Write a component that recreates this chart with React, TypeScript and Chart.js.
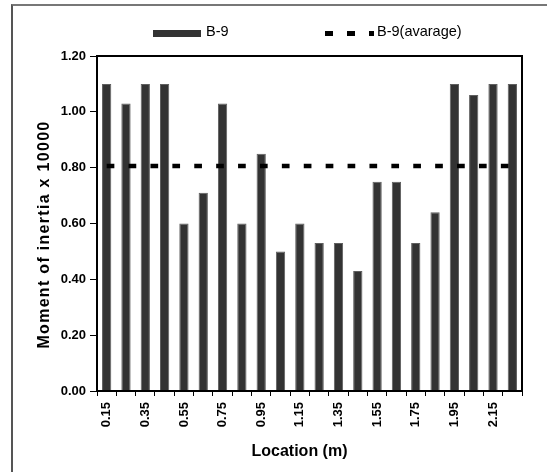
import React, { useEffect, useRef } from 'react';
import { Chart, registerables } from 'chart.js';

Chart.register(...registerables);

const locations = ['0.15', '0.25', '0.35', '0.45', '0.55', '0.65', '0.75', '0.85', '0.95', '1.05', '1.15', '1.25', '1.35', '1.45', '1.55', '1.65', '1.75', '1.85', '1.95', '2.05', '2.15', '2.25'];
const inertiaValues = [1.10, 1.03, 1.10, 1.10, 0.60, 0.71, 1.03, 0.60, 0.85, 0.50, 0.60, 0.53, 0.53, 0.43, 0.75, 0.75, 0.53, 0.64, 1.10, 1.06, 1.10, 1.10];
const averageValues = [0.806, 0.806, 0.806, 0.806, 0.806, 0.806, 0.806, 0.806, 0.806, 0.806, 0.806, 0.806, 0.806, 0.806, 0.806, 0.806, 0.806, 0.806, 0.806, 0.806, 0.806, 0.806];
const seriesNames = ['B-9', 'B-9(avarage)'];
const xTitle = 'Location (m)';
const yTitle = 'Moment of inertia x 10000';

const FONT = '"Liberation Sans", Arial, Helvetica, sans-serif';

const overlayPlugin = {
  id: 'overlay',
  afterDraw(chart: any) {
    const { ctx, chartArea: a } = chart;
    ctx.save();
    // plot frame
    ctx.strokeStyle = '#000';
    ctx.lineWidth = 2;
    ctx.setLineDash([]);
    ctx.strokeRect(a.left, a.top, a.right - a.left, a.bottom - a.top);

    // x title
    ctx.fillStyle = '#000';
    ctx.font = `bold 16px ${FONT}`;
    ctx.textAlign = 'center';
    ctx.textBaseline = 'middle';
    ctx.fillText(xTitle, (a.left + a.right) / 2 - 10, a.bottom + 61);

    // y title
    ctx.save();
    ctx.translate(45, (a.top + a.bottom) / 2 + 11);
    ctx.rotate(-Math.PI / 2);
    (ctx as any).letterSpacing = '1.3px';
    ctx.fillText(yTitle, 0, 0);
    ctx.restore();

    // legend
    const ly = 33;
    ctx.font = `14.5px ${FONT}`;
    ctx.textAlign = 'left';
    ctx.textBaseline = 'middle';
    ctx.fillStyle = '#333333';
    ctx.fillRect(153, ly - 3, 48, 7);
    ctx.fillStyle = '#000';
    ctx.fillText(seriesNames[0], 206, ly - 1);

    ctx.strokeStyle = '#000';
    ctx.lineWidth = 5;
    ctx.setLineDash([8, 14]);
    ctx.beginPath();
    ctx.moveTo(325, ly + 0.5);
    ctx.lineTo(374, ly + 0.5);
    ctx.stroke();
    ctx.setLineDash([]);
    ctx.fillText(seriesNames[1], 377, ly - 1);
    ctx.restore();
  },
};

export default function App() {
  const canvasRef = useRef<HTMLCanvasElement | null>(null);

  useEffect(() => {
    const canvas = canvasRef.current;
    if (!canvas) return;
    const chart = new Chart(canvas, {
      type: 'bar',
      data: {
        labels: locations,
        datasets: [
          {
            type: 'bar',
            label: seriesNames[0],
            data: inertiaValues,
            backgroundColor: '#333333',
            borderColor: '#5f5f5f',
            borderWidth: 1,
            barPercentage: 0.48,
            categoryPercentage: 1,
            order: 2,
          } as any,
          {
            type: 'line',
            label: seriesNames[1],
            data: averageValues,
            borderColor: '#000',
            borderWidth: 4.7,
            borderDash: [7.7, 14.2],
            pointRadius: 0,
            fill: false,
            order: 1,
          } as any,
        ],
      },
      options: {
        responsive: false,
        animation: false,
        devicePixelRatio: 1,
        layout: { padding: { top: 56, right: 25, left: 0, bottom: 0 } },
        plugins: {
          legend: { display: false },
          tooltip: { enabled: false },
          title: { display: false },
        },
        scales: {
          x: {
            type: 'category',
            offset: true,
            afterFit(scale: any) {
              scale.height = 81;
            },
            border: { display: false },
            grid: {
              offset: true,
              drawOnChartArea: false,
              drawTicks: true,
              tickLength: 5,
              color: '#000',
              lineWidth: 1,
            },
            ticks: {
              autoSkip: false,
              minRotation: 90,
              maxRotation: 90,
              padding: 6,
              color: '#000',
              font: { family: FONT, size: 13, weight: 'bold' },
              callback: (_v: any, i: number) => (i % 2 === 0 ? locations[i] : ''),
            },
          },
          y: {
            min: 0,
            max: 1.2,
            afterFit(scale: any) {
              scale.width = 97;
            },
            border: { display: false },
            grid: {
              drawOnChartArea: false,
              drawTicks: true,
              tickLength: 7,
              color: '#000',
              lineWidth: 1,
            },
            ticks: {
              stepSize: 0.2,
              padding: 4,
              color: '#000',
              font: { family: FONT, size: 13, weight: 'bold' },
              callback: (v: any) => Number(v).toFixed(2),
            },
          },
        },
      },
      plugins: [overlayPlugin],
    });
    return () => chart.destroy();
  }, []);

  return (
    <div style={{ position: 'fixed', left: 0, top: 0, width: 547, height: 472, overflow: 'hidden', background: '#fff' }}>
      <div
        style={{
          position: 'absolute',
          left: 11,
          top: 4,
          width: 600,
          height: 600,
          borderLeft: '2px solid #555',
          borderTop: '2px solid #777',
        }}
      />
      <canvas ref={canvasRef} width={547} height={472} style={{ position: 'absolute', left: 0, top: 0 }} />
    </div>
  );
}
